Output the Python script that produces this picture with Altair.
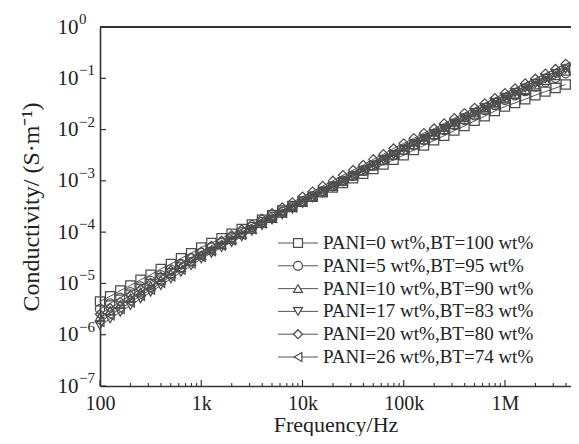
import altair as alt
import pandas as pd

# ---------------- data ----------------
log_freq = [2.0, 2.1, 2.2, 2.3, 2.4, 2.5, 2.6, 2.7, 2.8, 2.9,
            3.0, 3.1, 3.2, 3.3, 3.4, 3.5, 3.6, 3.7, 3.8, 3.9,
            4.0, 4.1, 4.2, 4.3, 4.4, 4.5, 4.6, 4.7, 4.8, 4.9,
            5.0, 5.1, 5.2, 5.3, 5.4, 5.5, 5.6, 5.7, 5.8, 5.9,
            6.0, 6.1, 6.2, 6.3, 6.4, 6.5, 6.6]

labels = ["PANI=0 wt%,BT=100 wt%", "PANI=5 wt%,BT=95 wt%", "PANI=10 wt%,BT=90 wt%",
          "PANI=17 wt%,BT=83 wt%", "PANI=20 wt%,BT=80 wt%", "PANI=26 wt%,BT=74 wt%"]
shapes = ["square", "circle", "triangle-up", "triangle-down", "diamond", "triangle-left"]

# log10 of conductivity (S/m)
log_s0 = [-5.35, -5.25, -5.14, -5.04, -4.93, -4.83, -4.72, -4.62, -4.51, -4.41,
          -4.30, -4.21, -4.12, -4.03, -3.94, -3.85, -3.76, -3.67, -3.58, -3.49,
          -3.40, -3.31, -3.22, -3.13, -3.04, -2.95, -2.86, -2.77, -2.68, -2.59,
          -2.50, -2.40, -2.31, -2.21, -2.12, -2.02, -1.93, -1.83, -1.74, -1.64,
          -1.55, -1.48, -1.41, -1.33, -1.26, -1.19, -1.12]
log_s5 = [-5.50, -5.39, -5.28, -5.17, -5.06, -4.95, -4.84, -4.73, -4.62, -4.51,
          -4.40, -4.30, -4.20, -4.10, -4.00, -3.90, -3.80, -3.70, -3.60, -3.50,
          -3.40, -3.30, -3.20, -3.10, -3.00, -2.90, -2.80, -2.70, -2.60, -2.50,
          -2.40, -2.30, -2.20, -2.11, -2.01, -1.91, -1.81, -1.72, -1.62, -1.52,
          -1.42, -1.33, -1.25, -1.16, -1.07, -0.99, -0.90]
log_s10 = [-5.65, -5.53, -5.41, -5.29, -5.17, -5.05, -4.93, -4.81, -4.69, -4.57,
           -4.45, -4.35, -4.24, -4.14, -4.04, -3.94, -3.83, -3.73, -3.63, -3.52,
           -3.42, -3.32, -3.22, -3.11, -3.01, -2.91, -2.81, -2.71, -2.60, -2.50,
           -2.40, -2.30, -2.20, -2.10, -2.00, -1.90, -1.80, -1.70, -1.60, -1.50,
           -1.40, -1.31, -1.22, -1.13, -1.04, -0.95, -0.86]
log_s17 = [-5.82, -5.69, -5.56, -5.43, -5.30, -5.17, -5.04, -4.91, -4.78, -4.65,
           -4.52, -4.41, -4.30, -4.20, -4.09, -3.98, -3.87, -3.76, -3.66, -3.55,
           -3.44, -3.33, -3.23, -3.12, -3.02, -2.91, -2.80, -2.70, -2.59, -2.49,
           -2.38, -2.28, -2.18, -2.08, -1.98, -1.88, -1.77, -1.67, -1.57, -1.47,
           -1.37, -1.28, -1.19, -1.10, -1.00, -0.91, -0.82]
log_s20 = [-5.60, -5.48, -5.36, -5.23, -5.11, -4.99, -4.87, -4.75, -4.62, -4.50,
           -4.38, -4.27, -4.17, -4.06, -3.95, -3.85, -3.74, -3.63, -3.52, -3.42,
           -3.31, -3.21, -3.10, -3.00, -2.89, -2.79, -2.69, -2.58, -2.48, -2.37,
           -2.27, -2.17, -2.07, -1.98, -1.88, -1.78, -1.68, -1.58, -1.49, -1.39,
           -1.29, -1.20, -1.10, -1.01, -0.91, -0.82, -0.72]
log_s26 = [-5.75, -5.62, -5.50, -5.37, -5.24, -5.12, -4.99, -4.86, -4.73, -4.61,
           -4.48, -4.37, -4.26, -4.16, -4.05, -3.94, -3.83, -3.72, -3.62, -3.51,
           -3.40, -3.30, -3.19, -3.09, -2.98, -2.88, -2.77, -2.67, -2.56, -2.46,
           -2.35, -2.25, -2.15, -2.05, -1.95, -1.85, -1.74, -1.64, -1.54, -1.44,
           -1.34, -1.25, -1.15, -1.06, -0.97, -0.87, -0.78]
series_logs = [log_s0, log_s5, log_s10, log_s17, log_s20, log_s26]

x_major = [100, 1000, 10000, 100000, 1000000]
x_major_text = ["100", "1k", "10k", "100k", "1M"]
x_minor = [200, 300, 400, 500, 600, 700, 800, 900,
           2000, 3000, 4000, 5000, 6000, 7000, 8000, 9000,
           20000, 30000, 40000, 50000, 60000, 70000, 80000, 90000,
           200000, 300000, 400000, 500000, 600000, 700000, 800000, 900000,
           2000000, 3000000, 4000000]
y_major = [1, 1e-1, 1e-2, 1e-3, 1e-4, 1e-5, 1e-6, 1e-7]
y_exp_text = ["0", "\u22121", "\u22122", "\u22123", "\u22124", "\u22125", "\u22126", "\u22127"]

# ---------------- tables ----------------
rows = []
for lab, vals in zip(labels, series_logs):
    for lf, lv in zip(log_freq, vals):
        rows.append({"label": lab, "freq": 10 ** lf, "sigma": 10 ** lv})
df = pd.DataFrame(rows)
df_xmaj = pd.DataFrame({"freq": x_major})
df_xmin = pd.DataFrame({"freq": x_minor})
df_y = pd.DataFrame({"sigma": y_major, "t": y_exp_text})

SERIF = "Liberation Serif"
INK = "#222222"
MARK = "#4d4d4d"
AXC = "#333333"
W, H = 471, 359

xscale = alt.Scale(type="log", domain=[100, 4.49e6], nice=False)
yscale = alt.Scale(type="log", domain=[1e-7, 1], nice=False)
shape_scale = alt.Scale(domain=labels, range=shapes)

label_expr = " : ".join(
    f"datum.value == {v} ? '{t}'" for v, t in zip(x_major, x_major_text)
) + " : ''"

xaxis = alt.Axis(values=x_major, labelExpr=label_expr, ticks=False, grid=False,
                 domain=True, domainColor=AXC, domainWidth=1.6, labelFont=SERIF, labelFontSize=20,
                 labelColor=INK, labelPadding=7, labelFlush=False,
                 title="Frequency/Hz", titleFont=SERIF, titleFontSize=22,
                 titleFontWeight="normal", titleColor=INK,
                 titleBaseline="alphabetic", titleY=45)
yaxis = alt.Axis(values=y_major, labelExpr="'10'", ticks=False, grid=False,
                 domain=True, domainColor=AXC, domainWidth=1.6, labelFont=SERIF, labelFontSize=21,
                 labelColor=INK, labelPadding=22, labelOverlap=False,
                 title="Conductivity/ (S\u00b7m\u207b\u00b9)", titleFont=SERIF, titleFontSize=24,
                 titleFontWeight="normal", titleColor=INK, titlePadding=14)

X = alt.X("freq:Q", scale=xscale, axis=xaxis)
Y = alt.Y("sigma:Q", scale=yscale, axis=yaxis)

lines = alt.Chart(df).mark_line(color="#555555", strokeWidth=1).encode(
    x=X, y=Y, detail="label:N")
points = alt.Chart(df).mark_point(filled=False, size=85, strokeWidth=1.25, color=MARK, opacity=1).encode(
    x=X, y=Y, shape=alt.Shape("label:N", scale=shape_scale, legend=None))

xt_major = alt.Chart(df_xmaj).mark_rule(color=AXC, strokeWidth=1.2).encode(
    x=X, y=alt.value(H), y2=alt.value(H - 6))
xt_minor = alt.Chart(df_xmin).mark_rule(color=AXC, strokeWidth=1.1).encode(
    x=X, y=alt.value(H), y2=alt.value(H - 3))
yt_major = alt.Chart(df_y).mark_rule(color=AXC, strokeWidth=1.2).encode(
    y=Y, x=alt.value(0), x2=alt.value(6))
y_exp = alt.Chart(df_y).mark_text(align="left", baseline="middle", dy=-8, font=SERIF,
                                  fontSize=15, color=INK).encode(
    y=Y, x=alt.value(-21), text="t:N")

top_border = alt.Chart(df_y).mark_rule(color=AXC, strokeWidth=1.6).encode(
    x=alt.value(0), x2=alt.value(W), y=alt.value(0))

# legend (inside the plot, lower right)
legend_layers = []
for i, (lab, shp) in enumerate(zip(labels, shapes)):
    d = pd.DataFrame({"label": [lab]})
    yy = 216 + i * 22.8
    legend_layers.append(alt.Chart(d).mark_rule(color="#555555", strokeWidth=1).encode(
        y=alt.value(yy), x=alt.value(178), x2=alt.value(218)))
    legend_layers.append(alt.Chart(d).mark_point(shape=shp, size=80, strokeWidth=1.25, fill="white",
                                                 stroke=MARK, opacity=1, filled=True).encode(
        y=alt.value(yy), x=alt.value(198)))
    legend_layers.append(alt.Chart(d).mark_text(align="left", baseline="middle", font=SERIF,
                                                fontSize=19, color=INK).encode(
        y=alt.value(yy), x=alt.value(223), text="label:N"))

chart = alt.layer(
    lines, points, xt_major, xt_minor, yt_major, y_exp, top_border, *legend_layers
).properties(
    width=W, height=H,
    padding={"left": 92, "top": 19, "right": 0, "bottom": 50},
    autosize=alt.AutoSizeParams(type="none"),
    background="white",
).configure_view(strokeWidth=0)

chart.save("out.html", embed_options={"renderer": "svg", "actions": False})
